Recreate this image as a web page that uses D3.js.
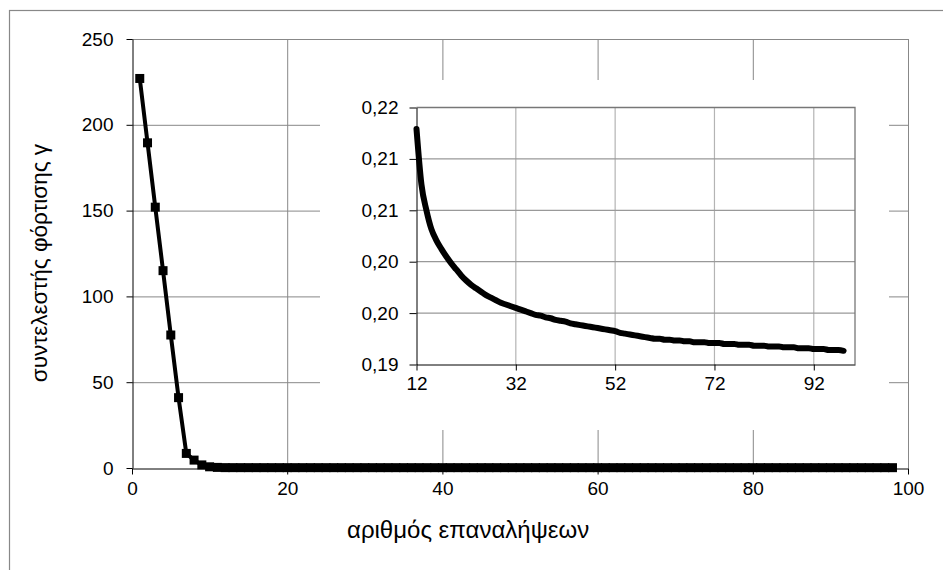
<!DOCTYPE html>
<html>
<head>
	<script src="https://d3js.org/d3.v7.min.js"></script>
	<title>load factor</title>
	<style>
		body { margin: 0; background: #fff; }
		text { font-family: "Liberation Sans", Arial, sans-serif; fill: #000; }
	</style>
</head>
<body>
	<svg id="SVG" width="943" height="570"></svg>
	<script>
		// first iterations (main chart only)
		var headIter = [1, 2, 3, 4, 5, 6, 7, 8, 9, 10, 11];
		var headValues = [227, 189.5, 152, 115, 77.5, 41, 8.5, 4.6, 1.8, 0.7, 0.35];

		// iterations 12..98 (shown in the inset too)
		var tailIter = d3.range(12, 99);
		var tailValues = [
			0.2175, 0.2110, 0.2080, 0.2058, 0.2045, 0.2035, 0.2026, 0.2018, 0.2011, 0.2004,
			0.1998, 0.1993, 0.1989, 0.1985, 0.1981, 0.1978, 0.1975, 0.1972, 0.1970, 0.1968,
			0.1966, 0.1964, 0.1962, 0.1960, 0.1958, 0.1957, 0.1955, 0.1954, 0.1952, 0.1951,
			0.1950, 0.1948, 0.1947, 0.1946, 0.1945, 0.1944, 0.1943, 0.1942, 0.1941, 0.1940,
			0.1939, 0.1937, 0.1936, 0.1935, 0.1934, 0.1933, 0.1932, 0.1931, 0.1930, 0.1930,
			0.1929, 0.1929, 0.1928, 0.1928, 0.1927, 0.1927, 0.1926, 0.1926, 0.1926, 0.1925,
			0.1925, 0.1925, 0.1924, 0.1924, 0.1924, 0.1923, 0.1923, 0.1923, 0.1922, 0.1922,
			0.1922, 0.1921, 0.1921, 0.1921, 0.1920, 0.1920, 0.1920, 0.1919, 0.1919, 0.1919,
			0.1918, 0.1918, 0.1918, 0.1917, 0.1917, 0.1917, 0.1916
		];

		var mainXTicks = [0, 20, 40, 60, 80, 100];
		var mainYTicks = [0, 50, 100, 150, 200, 250];
		var insetXTicks = [12, 32, 52, 72, 92];
		var insetYTicks = [0.19, 0.196, 0.202, 0.208, 0.214, 0.22];

		var xTitle = "αριθμός επαναλήψεων";
		var yTitle = "συντελεστής φόρτισης γ";

		var mainData = headIter.map((d, i) => ({x: d, y: headValues[i]}))
			.concat(tailIter.map((d, i) => ({x: d, y: tailValues[i]})));
		var insetData = tailIter.map((d, i) => ({x: d, y: tailValues[i]}));

		var svg = d3.select("#SVG");
		var comma = v => d3.format(".2f")(v).replace(".", ",");

		// outer frame
		svg.append("rect").attr("x", 9.5).attr("y", 10.5).attr("width", 960).attr("height", 600)
			.attr("fill", "#fff").attr("stroke", "#888").attr("stroke-width", 1.2);

		// ---------- main chart ----------
		var x = d3.scaleLinear().domain([0, 100]).range([132, 908]);
		var y = d3.scaleLinear().domain([0, 250]).range([468, 39]);

		var grid = svg.append("g");
		grid.selectAll("line.gx").data(mainXTicks.slice(1)).enter().append("line")
			.attr("x1", d => x(d) + 0.5).attr("x2", d => x(d) + 0.5)
			.attr("y1", y(250)).attr("y2", y(0))
			.attr("stroke", "#888").attr("stroke-width", 1);
		grid.selectAll("line.gy").data(mainYTicks.slice(1)).enter().append("line")
			.attr("x1", x(0)).attr("x2", x(100))
			.attr("y1", d => y(d) + 0.5).attr("y2", d => y(d) + 0.5)
			.attr("stroke", "#888").attr("stroke-width", 1);

		var xAxis = svg.append("g").attr("transform", "translate(0," + (y(0) + 0.5) + ")")
			.call(d3.axisBottom(x).tickValues(mainXTicks).tickSize(6).tickPadding(7).tickSizeOuter(0));
		var yAxis = svg.append("g").attr("transform", "translate(" + (x(0) + 0.5) + ",0)")
			.call(d3.axisLeft(y).tickValues(mainYTicks).tickSize(6).tickPadding(13).tickSizeOuter(0));
		[xAxis, yAxis].forEach(a => {
			a.selectAll("text").attr("font-size", 19).style("font-family", "Liberation Sans, Arial");
			a.selectAll("line").attr("stroke", "#000");
			a.select(".domain").attr("stroke", "#000");
		});

		svg.append("text").attr("x", 347).attr("y", 538).attr("text-anchor", "start")
			.attr("font-size", 24).text(xTitle);
		svg.append("text").attr("transform", "translate(47,263) rotate(-90)")
			.attr("text-anchor", "middle").attr("font-size", 22.5).text(yTitle);

		var mainLine = d3.line().x(d => x(d.x)).y(d => y(d.y));
		svg.append("path").datum(mainData).attr("d", mainLine)
			.attr("fill", "none").attr("stroke", "#000").attr("stroke-width", 4);
		svg.selectAll("rect.mk").data(mainData).enter().append("rect")
			.attr("class", "mk")
			.attr("x", d => x(d.x) - 4.5).attr("y", d => y(d.y) - 4.5)
			.attr("width", 9).attr("height", 9).attr("fill", "#000");

		// ---------- inset chart ----------
		var inset = svg.append("g");
		inset.append("rect").attr("x", 320).attr("y", 80).attr("width", 569).attr("height", 350)
			.attr("fill", "#fff");

		var ix = d3.scaleLinear().domain([12, 100.3]).range([416.5, 855]);
		var iy = d3.scaleLinear().domain([0.19, 0.22]).range([364.5, 107.5]);

		inset.selectAll("line.ix").data(insetXTicks.slice(1)).enter().append("line")
			.attr("x1", d => ix(d)).attr("x2", d => ix(d))
			.attr("y1", iy(0.22)).attr("y2", iy(0.19))
			.attr("stroke", "#b4b4b4").attr("stroke-width", 1.2);
		inset.selectAll("line.iy").data(insetYTicks.slice(1, -1)).enter().append("line")
			.attr("x1", ix(12)).attr("x2", ix(100.3))
			.attr("y1", d => iy(d)).attr("y2", d => iy(d))
			.attr("stroke", "#999").attr("stroke-width", 1.2);
		// top and right border
		inset.append("path")
			.attr("d", "M" + ix(12) + "," + iy(0.22) + "H" + ix(100.3) + "V" + iy(0.19))
			.attr("fill", "none").attr("stroke", "#777").attr("stroke-width", 1.3);

		var ixAxis = inset.append("g").attr("transform", "translate(0," + iy(0.19) + ")")
			.call(d3.axisBottom(ix).tickValues(insetXTicks).tickSize(6).tickPadding(6).tickSizeOuter(0));
		var iyAxis = inset.append("g").attr("transform", "translate(" + ix(12) + ",0)")
			.call(d3.axisLeft(iy).tickValues(insetYTicks).tickFormat(comma).tickSize(7).tickPadding(11).tickSizeOuter(0));
		[ixAxis, iyAxis].forEach(a => {
			a.selectAll("text").attr("font-size", 19).style("font-family", "Liberation Sans, Arial");
			a.selectAll("line").attr("stroke", "#000");
			a.select(".domain").attr("stroke", "#000");
		});

		var insetLine = d3.line().x(d => ix(d.x)).y(d => iy(d.y)).curve(d3.curveMonotoneX);
		inset.append("path").datum(insetData).attr("d", insetLine)
			.attr("fill", "none").attr("stroke", "#000").attr("stroke-width", 6)
			.attr("stroke-linecap", "round").attr("stroke-linejoin", "round");
	</script>
</body>
</html>
